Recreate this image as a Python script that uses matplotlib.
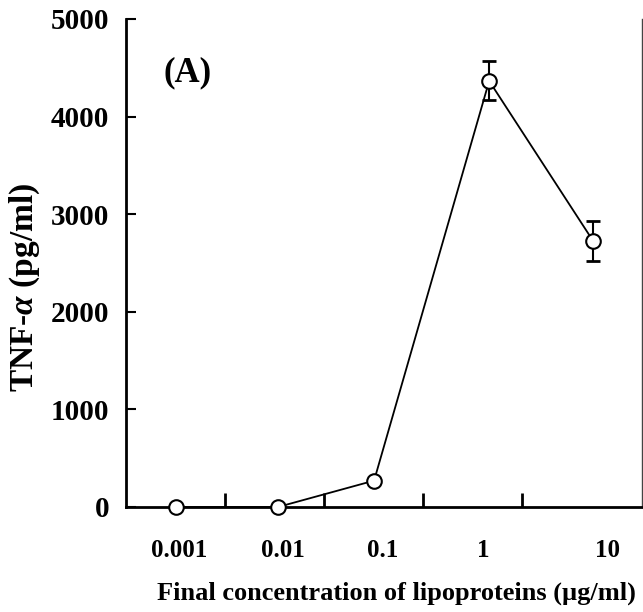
import matplotlib
matplotlib.use('Agg')
import matplotlib.pyplot as plt

plt.rcParams.update({
    'font.family': 'Liberation Serif',
    'font.weight': 'bold',
    'mathtext.fontset': 'custom',
    'mathtext.it': 'Liberation Serif:italic:bold',
})

# concentration categories (ug/ml) and TNF-alpha response (pg/ml)
conc_labels = ['0.001', '0.01', '0.1', '1', '10']
point_x = [0.505, 1.535, 2.505, 3.667, 4.717]
label_x = [0.535, 1.581, 2.596, 3.606, 4.864]
tnf = [0, 0, 270, 4365, 2725]
tnf_err = [0, 0, 0, 200, 200]

fig = plt.figure(figsize=(6.43, 6.12), dpi=100)
ax = fig.add_axes([0.196, 0.1716, 0.8024, 0.7974])

ax.errorbar(point_x, tnf, yerr=tnf_err, fmt='none', ecolor='black',
            elinewidth=1.5, capsize=5, capthick=2, zorder=2)
ax.plot(point_x, tnf, color='black', linewidth=1.3, marker='o',
        markersize=10.5, markerfacecolor='white', markeredgecolor='black',
        markeredgewidth=1.5, zorder=3, clip_on=False)

ax.set_xlim(0, 5.21)
ax.set_ylim(0, 5000)
ax.set_yticks([0, 1000, 2000, 3000, 4000, 5000])
ax.set_xticks([1, 2, 3, 4])
ax.set_xticklabels([])
ax.set_xticks(label_x, minor=True)
ax.set_xticklabels(conc_labels, minor=True)

ax.tick_params(axis='x', which='major', direction='in', length=10, width=2)
ax.tick_params(axis='x', which='minor', length=0, pad=23, labelsize=18)
ax.tick_params(axis='y', direction='in', length=7, width=1.5, pad=12,
               labelsize=21)

for side in ['left', 'bottom']:
    ax.spines[side].set_linewidth(2)
ax.spines['top'].set_visible(False)
ax.spines['right'].set_linewidth(1)
ax.spines['right'].set_color('#444444')

ax.set_xlabel('Final concentration of lipoproteins (\u00b5g/ml)',
              fontsize=19, fontweight='bold')
ax.xaxis.set_label_coords(0.524, -0.152)
ax.set_ylabel(r'TNF-$\mathit{\alpha}$ (pg/ml)', fontsize=24,
              fontweight='bold')
ax.yaxis.set_label_coords(-0.163, 0.45)

ax.text(0.12, 0.89, '(A)', transform=ax.transAxes, fontsize=25,
        fontweight='bold', ha='center', va='center')

fig.savefig('out.png', dpi=100)
